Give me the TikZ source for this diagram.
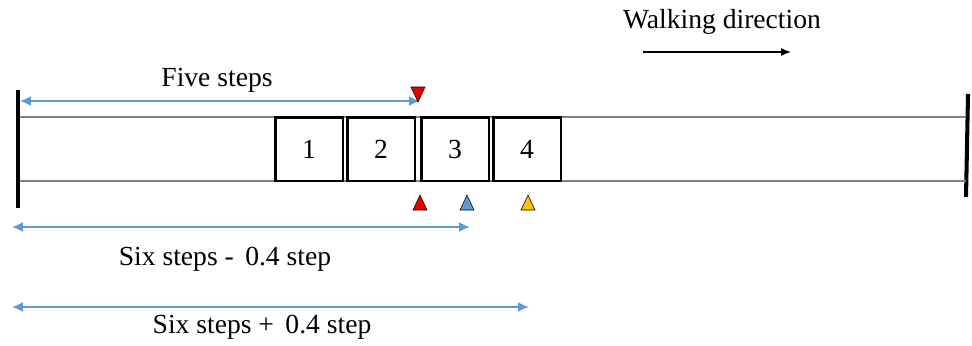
\documentclass[tikz,border=0pt]{standalone}
\usepackage{fontspec}
\setmainfont{Liberation Serif}
\usepackage{tikz}
\usetikzlibrary{arrows.meta}
\definecolor{stepblue}{RGB}{91,155,213}
\definecolor{stepred}{RGB}{230,0,0}
\definecolor{stepyellow}{RGB}{255,192,0}
\tikzstyle{stepbox} = [rectangle, draw, line width=1.7pt, minimum width=1.36cm,
    minimum height=1.28cm, inner sep=0pt]
\tikzstyle{wall} = [draw, line width=2.3pt]
\tikzstyle{rail} = [draw, gray, line width=1pt]
\tikzstyle{span} = [draw, stepblue, {Latex[length=2.2mm,width=2mm]}-{Latex[length=2.2mm,width=2mm]}, line width=1pt]
\tikzstyle{arrow} = [draw, -{Latex[length=2mm,width=1.6mm]}, line width=1pt]
\tikzstyle{marker} = [draw, black, line width=0.3pt]
\tikzstyle{label} = [font=\fontsize{15.7}{18}\selectfont, inner sep=0pt]

\begin{document}
\begin{tikzpicture}[x=0.02cm, y=-0.02cm]
			\useasboundingbox (0,0) rectangle (972,345);
			% Walls and rails
			\coordinate (leftTop) at (18,90);
			\coordinate (leftBottom) at (18,208);
			\coordinate (rightTop) at (968,94);
			\coordinate (rightBottom) at (966,197);
			\path [wall] (leftTop) -- (leftBottom);
			\path [wall] (rightTop) -- (rightBottom);
			\coordinate (railTopL) at (20,117);
			\coordinate (railTopR) at (966,117);
			\coordinate (railBotL) at (20,181);
			\coordinate (railBotR) at (966,181);
			\path [rail] (railTopL) -- (railTopR);
			\path [rail] (railBotL) -- (railBotR);
			% Place nodes
			\node [stepbox, fill=white, label] (stepOne) at (309,149) {1};
			\node [stepbox, fill=white, label] (stepTwo) at (381,149) {2};
			\node [stepbox, fill=white, label] (stepThree) at (455,149) {3};
			\node [stepbox, fill=white, label] (stepFour) at (527,149) {4};
			% Distances
			\coordinate (fiveStart) at (20,101);
			\coordinate (fiveEnd) at (420,101);
			\path [span] (fiveStart) -- (fiveEnd);
			\node [label] (fiveLabel) at (217,80) {Five steps};
			\coordinate (minusStart) at (12,227);
			\coordinate (minusEnd) at (470,227);
			\path [span] (minusStart) -- (minusEnd);
			\node [label] (minusLabel) at (225,259) {Six steps -\, 0.4 step};
			\coordinate (plusStart) at (12,307);
			\coordinate (plusEnd) at (529,307);
			\path [span] (plusStart) -- (plusEnd);
			\node [label] (plusLabel) at (262,327) {Six steps +\, 0.4 step};
			% Markers
			\filldraw [marker, fill=stepred] (411,87) -- (425,87) -- (418,102) -- cycle;
			\filldraw [marker, fill=stepred] (413,210) -- (427,210) -- (420,195) -- cycle;
			\filldraw [marker, fill=stepblue] (460,210) -- (474,210) -- (467,195) -- cycle;
			\filldraw [marker, fill=stepyellow] (521,210) -- (535,210) -- (528,195) -- cycle;
			% Walking direction
			\node [label] (walkLabel) at (722,22) {Walking direction};
			\coordinate (walkStart) at (643,52);
			\coordinate (walkEnd) at (791,52);
			\path [arrow, line width=0.8pt] (walkStart) -- (walkEnd);
	\end{tikzpicture}
\end{document}
